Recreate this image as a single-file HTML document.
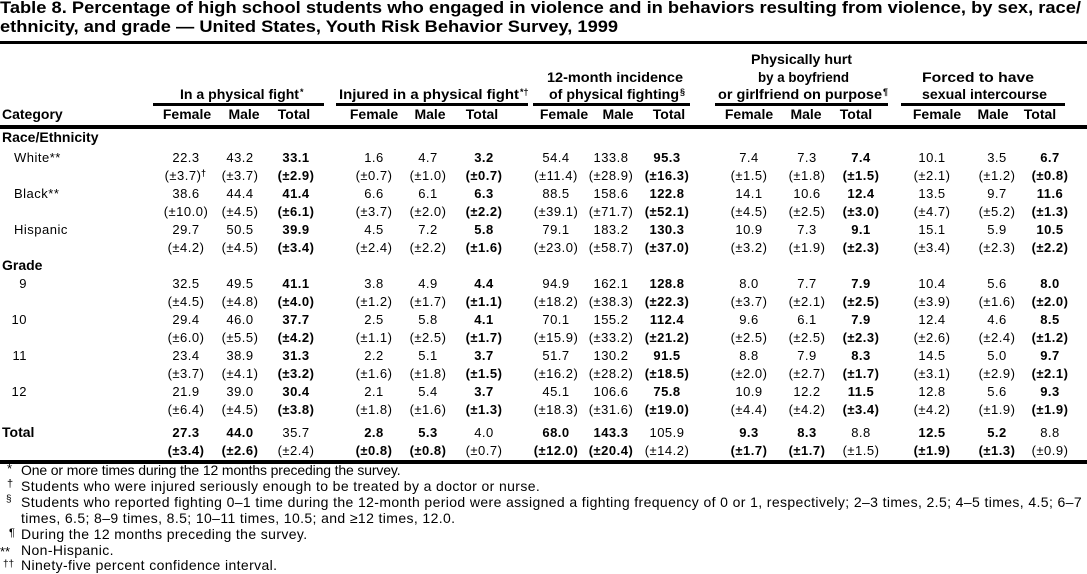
<!DOCTYPE html>
<html><head><meta charset="utf-8"><style>
html,body{margin:0;padding:0;background:#fff;width:1087px;height:574px;overflow:hidden}
svg{display:block}
text{font-family:"Liberation Sans",Arial,Helvetica,sans-serif;fill:#000}
.n{font-size:13px;text-anchor:middle;letter-spacing:0.5px}
.t{font-size:13px;text-anchor:middle;letter-spacing:0.5px;font-weight:bold}
.h{font-size:14px;text-anchor:middle;font-weight:bold}
.g{font-size:14px;font-weight:bold}
.l{font-size:13px;letter-spacing:0.5px}
.f{font-size:14px;letter-spacing:0.38px}
.sup{font-size:9px;font-weight:bold}
</style></head><body>
<svg width="1087" height="574" viewBox="0 0 1087 574" xmlns="http://www.w3.org/2000/svg">
<rect width="1087" height="574" fill="#fff"/>
<!-- Title -->
<text x="0" y="13" style="font-size:17px;font-weight:bold" textLength="1081" lengthAdjust="spacingAndGlyphs">Table 8. Percentage of high school students who engaged in violence and in behaviors resulting from violence, by sex, race/</text>
<text x="0" y="32" style="font-size:17px;font-weight:bold" textLength="618" lengthAdjust="spacingAndGlyphs">ethnicity, and grade — United States, Youth Risk Behavior Survey, 1999</text>
<rect x="0" y="41" width="1087" height="3"/>

<!-- Group headers -->
<text class="g" x="751" y="64" textLength="101" lengthAdjust="spacingAndGlyphs">Physically hurt</text>
<text class="g" x="547" y="82" textLength="136" lengthAdjust="spacingAndGlyphs">12-month incidence</text>
<text class="g" x="758" y="82" textLength="91" lengthAdjust="spacingAndGlyphs">by a boyfriend</text>
<text class="g" x="922" y="82" textLength="112" lengthAdjust="spacingAndGlyphs">Forced to have</text>

<text class="g" x="180" y="99" textLength="119" lengthAdjust="spacingAndGlyphs">In a physical fight</text>
<text class="sup" x="300" y="95">*</text>
<text class="g" x="339" y="99" textLength="180" lengthAdjust="spacingAndGlyphs">Injured in a physical fight</text>
<text class="sup" x="520" y="95">*†</text>
<text class="g" x="549" y="99" textLength="130" lengthAdjust="spacingAndGlyphs">of physical fighting</text>
<text class="sup" x="680" y="95">§</text>
<text class="g" x="718" y="99" textLength="164" lengthAdjust="spacingAndGlyphs">or girlfriend on purpose</text>
<text class="sup" x="883" y="95">¶</text>
<text class="g" x="922" y="99" textLength="125" lengthAdjust="spacingAndGlyphs">sexual intercourse</text>

<rect x="153" y="103" width="171" height="3"/>
<rect x="336" y="103" width="192" height="3"/>
<rect x="533" y="103" width="157" height="3"/>
<rect x="715" y="103" width="173" height="3"/>
<rect x="901" y="103" width="164" height="3"/>

<!-- Column headers -->
<text class="g" x="2" y="119">Category</text>
<text class="h" x="187" y="119">Female</text><text class="h" x="244" y="119">Male</text><text class="h" x="294" y="119">Total</text>
<text class="h" x="374" y="119">Female</text><text class="h" x="430" y="119">Male</text><text class="h" x="482" y="119">Total</text>
<text class="h" x="564" y="119">Female</text><text class="h" x="618" y="119">Male</text><text class="h" x="669" y="119">Total</text>
<text class="h" x="749" y="119">Female</text><text class="h" x="806" y="119">Male</text><text class="h" x="856" y="119">Total</text>
<text class="h" x="937" y="119">Female</text><text class="h" x="993" y="119">Male</text><text class="h" x="1040" y="119">Total</text>
<rect x="0" y="125" width="1087" height="4"/>

<!-- Race/Ethnicity -->
<text class="g" x="2" y="142">Race/Ethnicity</text>

<text class="l" x="14" y="162">White**</text>
<text class="n" x="186" y="162">22.3</text><text class="n" x="240" y="162">43.2</text><text class="t" x="296" y="162">33.1</text>
<text class="n" x="374" y="162">1.6</text><text class="n" x="428" y="162">4.7</text><text class="t" x="484" y="162">3.2</text>
<text class="n" x="556" y="162">54.4</text><text class="n" x="611" y="162">133.8</text><text class="t" x="667" y="162">95.3</text>
<text class="n" x="749" y="162">7.4</text><text class="n" x="807" y="162">7.3</text><text class="t" x="861" y="162">7.4</text>
<text class="n" x="932" y="162">10.1</text><text class="n" x="997" y="162">3.5</text><text class="t" x="1050" y="162">6.7</text>

<text class="n" x="183" y="180">(±3.7)</text><text class="sup" x="201" y="176">†</text>
<text class="n" x="240" y="180">(±3.7)</text><text class="t" x="296" y="180">(±2.9)</text>
<text class="n" x="374" y="180">(±0.7)</text><text class="n" x="428" y="180">(±1.0)</text><text class="t" x="484" y="180">(±0.7)</text>
<text class="n" x="556" y="180">(±11.4)</text><text class="n" x="611" y="180">(±28.9)</text><text class="t" x="667" y="180">(±16.3)</text>
<text class="n" x="749" y="180">(±1.5)</text><text class="n" x="807" y="180">(±1.8)</text><text class="t" x="861" y="180">(±1.5)</text>
<text class="n" x="932" y="180">(±2.1)</text><text class="n" x="997" y="180">(±1.2)</text><text class="t" x="1050" y="180">(±0.8)</text>

<text class="l" x="14" y="198">Black**</text>
<text class="n" x="186" y="198">38.6</text><text class="n" x="240" y="198">44.4</text><text class="t" x="296" y="198">41.4</text>
<text class="n" x="374" y="198">6.6</text><text class="n" x="428" y="198">6.1</text><text class="t" x="484" y="198">6.3</text>
<text class="n" x="556" y="198">88.5</text><text class="n" x="611" y="198">158.6</text><text class="t" x="667" y="198">122.8</text>
<text class="n" x="749" y="198">14.1</text><text class="n" x="807" y="198">10.6</text><text class="t" x="861" y="198">12.4</text>
<text class="n" x="932" y="198">13.5</text><text class="n" x="997" y="198">9.7</text><text class="t" x="1050" y="198">11.6</text>

<text class="n" x="186" y="216">(±10.0)</text><text class="n" x="240" y="216">(±4.5)</text><text class="t" x="296" y="216">(±6.1)</text>
<text class="n" x="374" y="216">(±3.7)</text><text class="n" x="428" y="216">(±2.0)</text><text class="t" x="484" y="216">(±2.2)</text>
<text class="n" x="556" y="216">(±39.1)</text><text class="n" x="611" y="216">(±71.7)</text><text class="t" x="667" y="216">(±52.1)</text>
<text class="n" x="749" y="216">(±4.5)</text><text class="n" x="807" y="216">(±2.5)</text><text class="t" x="861" y="216">(±3.0)</text>
<text class="n" x="932" y="216">(±4.7)</text><text class="n" x="997" y="216">(±5.2)</text><text class="t" x="1050" y="216">(±1.3)</text>

<text class="l" x="14" y="234">Hispanic</text>
<text class="n" x="186" y="234">29.7</text><text class="n" x="240" y="234">50.5</text><text class="t" x="296" y="234">39.9</text>
<text class="n" x="374" y="234">4.5</text><text class="n" x="428" y="234">7.2</text><text class="t" x="484" y="234">5.8</text>
<text class="n" x="556" y="234">79.1</text><text class="n" x="611" y="234">183.2</text><text class="t" x="667" y="234">130.3</text>
<text class="n" x="749" y="234">10.9</text><text class="n" x="807" y="234">7.3</text><text class="t" x="861" y="234">9.1</text>
<text class="n" x="932" y="234">15.1</text><text class="n" x="997" y="234">5.9</text><text class="t" x="1050" y="234">10.5</text>

<text class="n" x="186" y="252">(±4.2)</text><text class="n" x="240" y="252">(±4.5)</text><text class="t" x="296" y="252">(±3.4)</text>
<text class="n" x="374" y="252">(±2.4)</text><text class="n" x="428" y="252">(±2.2)</text><text class="t" x="484" y="252">(±1.6)</text>
<text class="n" x="556" y="252">(±23.0)</text><text class="n" x="611" y="252">(±58.7)</text><text class="t" x="667" y="252">(±37.0)</text>
<text class="n" x="749" y="252">(±3.2)</text><text class="n" x="807" y="252">(±1.9)</text><text class="t" x="861" y="252">(±2.3)</text>
<text class="n" x="932" y="252">(±3.4)</text><text class="n" x="997" y="252">(±2.3)</text><text class="t" x="1050" y="252">(±2.2)</text>

<!-- Grade -->
<text class="g" x="2" y="270">Grade</text>

<text class="l" x="27" y="288" text-anchor="end">9</text>
<text class="n" x="186" y="288">32.5</text><text class="n" x="240" y="288">49.5</text><text class="t" x="296" y="288">41.1</text>
<text class="n" x="374" y="288">3.8</text><text class="n" x="428" y="288">4.9</text><text class="t" x="484" y="288">4.4</text>
<text class="n" x="556" y="288">94.9</text><text class="n" x="611" y="288">162.1</text><text class="t" x="667" y="288">128.8</text>
<text class="n" x="749" y="288">8.0</text><text class="n" x="807" y="288">7.7</text><text class="t" x="861" y="288">7.9</text>
<text class="n" x="932" y="288">10.4</text><text class="n" x="997" y="288">5.6</text><text class="t" x="1050" y="288">8.0</text>

<text class="n" x="186" y="306">(±4.5)</text><text class="n" x="240" y="306">(±4.8)</text><text class="t" x="296" y="306">(±4.0)</text>
<text class="n" x="374" y="306">(±1.2)</text><text class="n" x="428" y="306">(±1.7)</text><text class="t" x="484" y="306">(±1.1)</text>
<text class="n" x="556" y="306">(±18.2)</text><text class="n" x="611" y="306">(±38.3)</text><text class="t" x="667" y="306">(±22.3)</text>
<text class="n" x="749" y="306">(±3.7)</text><text class="n" x="807" y="306">(±2.1)</text><text class="t" x="861" y="306">(±2.5)</text>
<text class="n" x="932" y="306">(±3.9)</text><text class="n" x="997" y="306">(±1.6)</text><text class="t" x="1050" y="306">(±2.0)</text>

<text class="l" x="27" y="324" text-anchor="end">10</text>
<text class="n" x="186" y="324">29.4</text><text class="n" x="240" y="324">46.0</text><text class="t" x="296" y="324">37.7</text>
<text class="n" x="374" y="324">2.5</text><text class="n" x="428" y="324">5.8</text><text class="t" x="484" y="324">4.1</text>
<text class="n" x="556" y="324">70.1</text><text class="n" x="611" y="324">155.2</text><text class="t" x="667" y="324">112.4</text>
<text class="n" x="749" y="324">9.6</text><text class="n" x="807" y="324">6.1</text><text class="t" x="861" y="324">7.9</text>
<text class="n" x="932" y="324">12.4</text><text class="n" x="997" y="324">4.6</text><text class="t" x="1050" y="324">8.5</text>

<text class="n" x="186" y="342">(±6.0)</text><text class="n" x="240" y="342">(±5.5)</text><text class="t" x="296" y="342">(±4.2)</text>
<text class="n" x="374" y="342">(±1.1)</text><text class="n" x="428" y="342">(±2.5)</text><text class="t" x="484" y="342">(±1.7)</text>
<text class="n" x="556" y="342">(±15.9)</text><text class="n" x="611" y="342">(±33.2)</text><text class="t" x="667" y="342">(±21.2)</text>
<text class="n" x="749" y="342">(±2.5)</text><text class="n" x="807" y="342">(±2.5)</text><text class="t" x="861" y="342">(±2.3)</text>
<text class="n" x="932" y="342">(±2.6)</text><text class="n" x="997" y="342">(±2.4)</text><text class="t" x="1050" y="342">(±1.2)</text>

<text class="l" x="27" y="360" text-anchor="end">11</text>
<text class="n" x="186" y="360">23.4</text><text class="n" x="240" y="360">38.9</text><text class="t" x="296" y="360">31.3</text>
<text class="n" x="374" y="360">2.2</text><text class="n" x="428" y="360">5.1</text><text class="t" x="484" y="360">3.7</text>
<text class="n" x="556" y="360">51.7</text><text class="n" x="611" y="360">130.2</text><text class="t" x="667" y="360">91.5</text>
<text class="n" x="749" y="360">8.8</text><text class="n" x="807" y="360">7.9</text><text class="t" x="861" y="360">8.3</text>
<text class="n" x="932" y="360">14.5</text><text class="n" x="997" y="360">5.0</text><text class="t" x="1050" y="360">9.7</text>

<text class="n" x="186" y="378">(±3.7)</text><text class="n" x="240" y="378">(±4.1)</text><text class="t" x="296" y="378">(±3.2)</text>
<text class="n" x="374" y="378">(±1.6)</text><text class="n" x="428" y="378">(±1.8)</text><text class="t" x="484" y="378">(±1.5)</text>
<text class="n" x="556" y="378">(±16.2)</text><text class="n" x="611" y="378">(±28.2)</text><text class="t" x="667" y="378">(±18.5)</text>
<text class="n" x="749" y="378">(±2.0)</text><text class="n" x="807" y="378">(±2.7)</text><text class="t" x="861" y="378">(±1.7)</text>
<text class="n" x="932" y="378">(±3.1)</text><text class="n" x="997" y="378">(±2.9)</text><text class="t" x="1050" y="378">(±2.1)</text>

<text class="l" x="27" y="396" text-anchor="end">12</text>
<text class="n" x="186" y="396">21.9</text><text class="n" x="240" y="396">39.0</text><text class="t" x="296" y="396">30.4</text>
<text class="n" x="374" y="396">2.1</text><text class="n" x="428" y="396">5.4</text><text class="t" x="484" y="396">3.7</text>
<text class="n" x="556" y="396">45.1</text><text class="n" x="611" y="396">106.6</text><text class="t" x="667" y="396">75.8</text>
<text class="n" x="749" y="396">10.9</text><text class="n" x="807" y="396">12.2</text><text class="t" x="861" y="396">11.5</text>
<text class="n" x="932" y="396">12.8</text><text class="n" x="997" y="396">5.6</text><text class="t" x="1050" y="396">9.3</text>

<text class="n" x="186" y="414">(±6.4)</text><text class="n" x="240" y="414">(±4.5)</text><text class="t" x="296" y="414">(±3.8)</text>
<text class="n" x="374" y="414">(±1.8)</text><text class="n" x="428" y="414">(±1.6)</text><text class="t" x="484" y="414">(±1.3)</text>
<text class="n" x="556" y="414">(±18.3)</text><text class="n" x="611" y="414">(±31.6)</text><text class="t" x="667" y="414">(±19.0)</text>
<text class="n" x="749" y="414">(±4.4)</text><text class="n" x="807" y="414">(±4.2)</text><text class="t" x="861" y="414">(±3.4)</text>
<text class="n" x="932" y="414">(±4.2)</text><text class="n" x="997" y="414">(±1.9)</text><text class="t" x="1050" y="414">(±1.9)</text>

<!-- Total -->
<text class="g" x="2" y="437">Total</text>
<text class="t" x="186" y="437">27.3</text><text class="t" x="240" y="437">44.0</text><text class="n" x="296" y="437">35.7</text>
<text class="t" x="374" y="437">2.8</text><text class="t" x="428" y="437">5.3</text><text class="n" x="484" y="437">4.0</text>
<text class="t" x="556" y="437">68.0</text><text class="t" x="611" y="437">143.3</text><text class="n" x="667" y="437">105.9</text>
<text class="t" x="749" y="437">9.3</text><text class="t" x="807" y="437">8.3</text><text class="n" x="861" y="437">8.8</text>
<text class="t" x="932" y="437">12.5</text><text class="t" x="997" y="437">5.2</text><text class="n" x="1050" y="437">8.8</text>

<text class="t" x="186" y="455">(±3.4)</text><text class="t" x="240" y="455">(±2.6)</text><text class="n" x="296" y="455">(±2.4)</text>
<text class="t" x="374" y="455">(±0.8)</text><text class="t" x="428" y="455">(±0.8)</text><text class="n" x="484" y="455">(±0.7)</text>
<text class="t" x="556" y="455">(±12.0)</text><text class="t" x="611" y="455">(±20.4)</text><text class="n" x="667" y="455">(±14.2)</text>
<text class="t" x="749" y="455">(±1.7)</text><text class="t" x="807" y="455">(±1.7)</text><text class="n" x="861" y="455">(±1.5)</text>
<text class="t" x="932" y="455">(±1.9)</text><text class="t" x="997" y="455">(±1.3)</text><text class="n" x="1050" y="455">(±0.9)</text>

<rect x="0" y="460" width="1087" height="4"/>

<!-- Footnotes -->
<text x="7" y="473" style="font-size:13px">*</text>
<text class="f" x="21" y="475" textLength="380" lengthAdjust="spacing">One or more times during the 12 months preceding the survey.</text>
<text x="7" y="487" style="font-size:11px">†</text>
<text class="f" x="21" y="491">Students who were injured seriously enough to be treated by a doctor or nurse.</text>
<text x="6" y="502" style="font-size:10px">§</text>
<text class="f" x="21" y="507" textLength="1061" lengthAdjust="spacing">Students who reported fighting 0–1 time during the 12-month period were assigned a fighting frequency of 0 or 1, respectively; 2–3 times, 2.5; 4–5 times, 4.5; 6–7</text>
<text class="f" x="21" y="523">times, 6.5; 8–9 times, 8.5; 10–11 times, 10.5; and ≥12 times, 12.0.</text>
<text x="9" y="536" style="font-size:11px">¶</text>
<text class="f" x="21" y="539">During the 12 months preceding the survey.</text>
<text x="0" y="556" style="font-size:13px">**</text>
<text class="f" x="21" y="555">Non-Hispanic.</text>
<text x="3" y="567" style="font-size:10px">††</text>
<text class="f" x="21" y="570">Ninety-five percent confidence interval.</text>
</svg>
</body></html>
